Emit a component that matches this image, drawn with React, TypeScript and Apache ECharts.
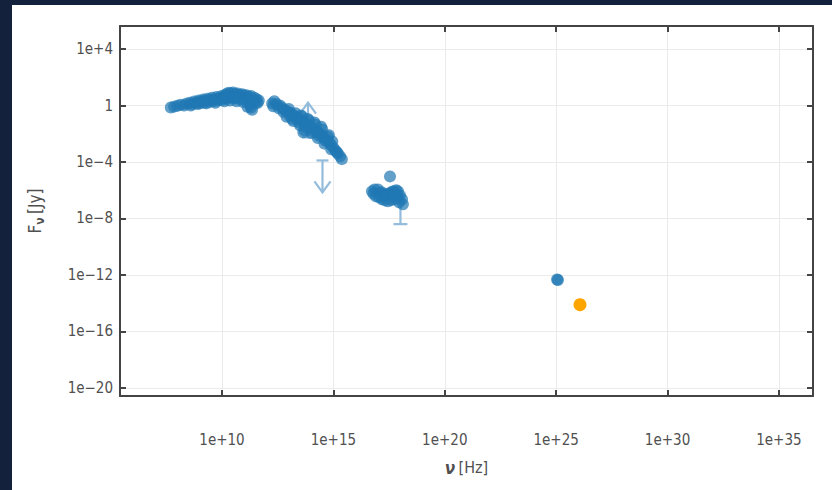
import { useEffect, useRef } from "react";
import * as echarts from "echarts";

// log10(frequency / Hz) and log10(flux density / Jy)
const radioNu = [7.7, 7.85, 8.0, 8.15, 8.3, 8.4, 8.55, 8.65, 8.75, 8.85, 8.95, 9.05, 9.15, 9.25, 9.35, 9.45, 9.55, 9.65, 9.75, 9.85, 9.95, 10.05, 10.1, 10.2, 10.3, 10.4, 10.5, 10.6, 10.7, 10.8, 10.9, 11.0, 11.1, 11.2, 11.3, 11.45, 11.55, 11.65, 11.6, 11.4, 11.2, 11.0, 10.8, 10.6, 10.4, 10.2, 10.0, 9.8, 9.6, 9.4, 9.2, 9.0, 11.25, 11.3, 11.35, 11.15, 8.6, 8.9, 9.3, 9.7, 10.1, 10.35, 10.65, 10.95, 11.5, 10.25, 10.55];
const radioF = [-0.14, -0.08, -0.02, 0.05, 0.0, 0.12, 0.2, 0.1, 0.28, 0.2, 0.35, 0.28, 0.42, 0.35, 0.48, 0.4, 0.55, 0.45, 0.6, 0.5, 0.65, 0.55, 0.72, 0.82, 0.9, 0.85, 0.92, 0.8, 0.85, 0.75, 0.8, 0.7, 0.72, 0.62, 0.68, 0.55, 0.45, 0.35, 0.2, 0.3, 0.35, 0.4, 0.45, 0.5, 0.55, 0.5, 0.4, 0.35, 0.3, 0.25, 0.2, 0.15, 0.05, -0.15, -0.3, -0.1, 0.0, 0.1, 0.15, 0.2, 0.3, 0.35, 0.3, 0.25, 0.15, 0.65, 0.6];

const optNu = [12.25, 12.35, 12.45, 12.6, 12.7, 12.8, 12.9, 13.0, 13.1, 13.2, 13.3, 13.4, 13.5, 13.6, 13.7, 13.8, 13.9, 14.0, 14.1, 14.2, 14.3, 14.4, 14.5, 14.6, 14.7, 14.8, 14.9, 15.0, 15.1, 15.2, 15.3, 15.38, 13.0, 13.3, 13.6, 13.9, 14.2, 14.5, 14.8, 12.9, 13.2, 13.5, 13.7, 14.0, 14.3, 14.6, 14.9, 13.65, 12.3, 12.55, 12.75, 13.05, 13.15, 13.45, 13.75, 14.05, 14.35, 14.65, 14.75, 14.95, 15.15, 13.55, 13.85, 14.15, 14.45];
const optF = [0.15, 0.3, 0.1, 0.0, -0.15, -0.3, -0.4, -0.5, -0.55, -0.7, -0.8, -0.9, -1.0, -1.1, -1.2, -1.35, -1.45, -1.55, -1.65, -1.8, -1.9, -2.0, -2.15, -2.3, -2.45, -2.6, -2.8, -3.0, -3.2, -3.4, -3.6, -3.8, -0.25, -0.55, -0.8, -1.05, -1.35, -1.7, -2.1, -0.8, -1.1, -1.4, -1.75, -1.95, -2.3, -2.7, -3.1, -1.9, -0.05, -0.2, -0.45, -0.75, -0.95, -1.2, -1.5, -1.8, -2.15, -2.5, -2.2, -2.55, -3.3, -0.7, -0.95, -1.2, -1.5];

const xrayNu = [16.73, 16.85, 17.0, 17.1, 17.18, 17.3, 17.36, 17.45, 17.54, 17.63, 17.72, 17.82, 17.9, 17.99, 18.08, 18.12, 16.91, 17.05, 17.18, 17.32, 17.45, 17.6, 17.76, 17.9, 17.54, 17.25, 17.7, 17.95, 16.8];
const xrayF = [-6.08, -5.95, -5.94, -6.2, -6.15, -6.3, -6.36, -6.25, -6.22, -6.1, -6.08, -6.0, -6.08, -6.36, -6.64, -7.0, -6.43, -6.5, -6.64, -6.72, -6.78, -6.7, -6.64, -6.5, -5.02, -6.45, -6.4, -6.85, -6.25];

const gammaNu = [25.04, 25.08];
const gammaF = [-12.32, -12.36];

const tevNu = [26.07];
const tevF = [-14.1];

// limits: arrow from the bar (start) to the tip (end)
const limitNu = [13.86, 14.51];
const limitStart = [-2.26, -3.89];
const limitEnd = [0.21, -6.15];

// error bar
const errNu = [18.01];
const errTop = [-6.6];
const errBottom = [-8.4];

const xTicks = [10, 15, 20, 25, 30, 35];
const yTicks = [-20, -16, -12, -8, -4, 0, 4];

const FONT = "'DejaVu Sans Condensed', 'DejaVu Sans', sans-serif";
const TEXT = "#505050";
const FRAME = "#444";
const BLUE = "#1f77b4";
const LIGHT = "#93bcdc";

function fmtExp(v: number): string {
  if (Math.abs(v) < 1e-9) return "1";
  return "1e" + (v > 0 ? "+" : "\u2212") + Math.abs(Math.round(v));
}

function pts(xs: number[], ys: number[]) {
  return xs.map((x, i) => [x, ys[i]]);
}

export default function App() {
  const ref = useRef<HTMLDivElement>(null);

  useEffect(() => {
    if (!ref.current) return;
    const chart = echarts.init(ref.current, undefined, { renderer: "svg" });

    const frameLine = { show: true, onZero: false, lineStyle: { color: FRAME, width: 2 } };
    const tickStyle = { color: FRAME, width: 2 };

    const option: any = {
      animation: false,
      grid: { left: 108, top: 21, width: 693, height: 370, containLabel: false },
      xAxis: [
        {
          type: "value",
          position: "bottom",
          min: 5.42,
          max: 36.53,
          axisLine: frameLine,
          axisTick: { show: true, inside: true, length: 6, lineStyle: tickStyle, customValues: xTicks },
          axisLabel: {
            customValues: xTicks,
            formatter: fmtExp,
            color: TEXT,
            fontFamily: FONT,
            fontSize: 15,
            margin: 36,
          },
          splitLine: { show: true, lineStyle: { color: "#ebebeb", width: 1 } },
          name: "{n|\u03bd} {t|[Hz]}",
          nameLocation: "middle",
          nameGap: 63,
          nameTextStyle: {
            color: TEXT,
            rich: {
              n: { fontFamily: FONT, fontSize: 17, fontWeight: "bold", fontStyle: "italic", color: TEXT },
              t: { fontFamily: FONT, fontSize: 16, color: TEXT },
            },
          },
        },
        {
          type: "value",
          position: "top",
          min: 5.42,
          max: 36.53,
          axisLine: frameLine,
          axisTick: { show: true, inside: true, length: 6, lineStyle: tickStyle, customValues: xTicks },
          axisLabel: { show: false, customValues: xTicks },
          splitLine: { show: false },
        },
      ],
      yAxis: [
        {
          type: "value",
          position: "left",
          min: -20.57,
          max: 5.63,
          axisLine: frameLine,
          axisTick: { show: true, inside: true, length: 6, lineStyle: tickStyle, customValues: yTicks },
          axisLabel: {
            customValues: yTicks,
            formatter: fmtExp,
            color: TEXT,
            fontFamily: FONT,
            fontSize: 15,
            margin: 7,
          },
          splitLine: { show: true, lineStyle: { color: "#ebebeb", width: 1 } },
          name: "{a|F}{b|\u03bd} {a|[Jy]}",
          nameLocation: "middle",
          nameGap: 74,
          nameRotate: 90,
          nameTextStyle: {
            color: TEXT,
            rich: {
              a: { fontFamily: FONT, fontSize: 17, color: TEXT, lineHeight: 22 },
              b: { fontFamily: FONT, fontSize: 12, fontWeight: "bold", color: TEXT, verticalAlign: "bottom" },
            },
          },
        },
        {
          type: "value",
          position: "right",
          min: -20.57,
          max: 5.63,
          axisLine: frameLine,
          axisTick: { show: true, inside: true, length: 6, lineStyle: tickStyle, customValues: yTicks },
          axisLabel: { show: false, customValues: yTicks },
          splitLine: { show: false },
        },
      ],
      series: [
        {
          type: "custom",
          name: "limits",
          xAxisIndex: 0,
          yAxisIndex: 0,
          z: 1,
          data: limitNu.map((n, i) => [n, limitStart[i], limitEnd[i]]),
          encode: { x: 0, y: [1, 2] },
          renderItem: (_params: any, api: any) => {
            const x = api.value(0);
            const p0 = api.coord([x, api.value(1)]);
            const p1 = api.coord([x, api.value(2)]);
            const dir = p1[1] > p0[1] ? 1 : -1;
            const style = { stroke: LIGHT, lineWidth: 2.2, fill: "none" };
            return {
              type: "group",
              children: [
                { type: "line", shape: { x1: p0[0] - 6, y1: p0[1], x2: p0[0] + 6, y2: p0[1] }, style },
                { type: "line", shape: { x1: p0[0], y1: p0[1], x2: p1[0], y2: p1[1] }, style },
                {
                  type: "polyline",
                  shape: { points: [[p1[0] - 8, p1[1] - dir * 11], [p1[0], p1[1]], [p1[0] + 8, p1[1] - dir * 11]] },
                  style,
                },
              ],
            };
          },
        },
        {
          type: "custom",
          name: "errors",
          xAxisIndex: 0,
          yAxisIndex: 0,
          z: 1,
          data: errNu.map((n, i) => [n, errTop[i], errBottom[i]]),
          encode: { x: 0, y: [1, 2] },
          renderItem: (_params: any, api: any) => {
            const x = api.value(0);
            const p0 = api.coord([x, api.value(1)]);
            const p1 = api.coord([x, api.value(2)]);
            const style = { stroke: LIGHT, lineWidth: 2.2, fill: "none" };
            return {
              type: "group",
              children: [
                { type: "line", shape: { x1: p0[0], y1: p0[1], x2: p1[0], y2: p1[1] }, style },
                { type: "line", shape: { x1: p1[0] - 7, y1: p1[1], x2: p1[0] + 7, y2: p1[1] }, style },
              ],
            };
          },
        },
        {
          type: "scatter",
          name: "SED",
          z: 2,
          symbolSize: 12,
          itemStyle: { color: BLUE, opacity: 0.7 },
          data: [
            ...pts(radioNu, radioF),
            ...pts(optNu, optF),
            ...pts(xrayNu, xrayF),
            ...pts(gammaNu, gammaF),
          ],
        },
        {
          type: "scatter",
          name: "TeV",
          z: 3,
          symbolSize: 13,
          itemStyle: { color: "#ffa500", opacity: 1 },
          data: pts(tevNu, tevF),
        },
      ],
    };

    chart.setOption(option);
    return () => chart.dispose();
  }, []);

  return (
    <div style={{ position: "fixed", left: 0, top: 0, width: 832, height: 490, background: "#14213d" }}>
      <div style={{ position: "absolute", left: 12, top: 5, width: 820, height: 485, background: "#ffffff" }}>
        <div ref={ref} style={{ width: 820, height: 485 }} />
      </div>
    </div>
  );
}
